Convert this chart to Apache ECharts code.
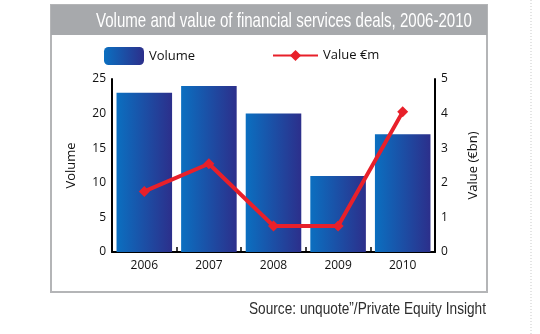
<!DOCTYPE html>
<html>
<head>
<meta charset="utf-8">
<script src="https://cdn.jsdelivr.net/npm/echarts@6/dist/echarts.min.js"></script>
<style>
  html, body { margin: 0; padding: 0; background: #ffffff; }
  #chart { width: 540px; height: 334px; }
</style>
</head>
<body>
<div id="chart"></div>
<script>
// Deal data, 2006-2010
const years = ['2006', '2007', '2008', '2009', '2010'];
const volume = [23, 24, 20, 11, 17];
const valueBn = [1.75, 2.55, 0.75, 0.75, 4.05];
const volumeTicks = [0, 5, 10, 15, 20, 25];
const valueTicks = [0, 1, 2, 3, 4, 5];

const titleText = 'Volume and value of financial services deals, 2006-2010';
const sourceText = 'Source: unquote\u201d/Private Equity Insight';

const condensedBase = '"Liberation Sans", Arial, sans-serif';
const body = '"Open Sans", "Noto Sans", sans-serif';

// Squeeze a regular sans face horizontally to get a condensed look
function textWidth(str, font) {
  const ctx = document.createElement('canvas').getContext('2d');
  ctx.font = font;
  return ctx.measureText(str).width;
}
function condensedText(str, size, left, right, y, color) {
  const font = size + 'px ' + condensedBase;
  const sx = (right - left) / textWidth(str, font);
  return {
    type: 'text', x: left, y: y, scaleX: sx, originX: 0, z: 3,
    style: { text: str, fill: color, font: font, align: 'left', verticalAlign: 'middle' }
  };
}

const barFill = new echarts.graphic.LinearGradient(0, 0, 1, 0, [
  { offset: 0, color: '#0b6fc0' },
  { offset: 1, color: '#2c2f8b' }
]);

const chart = echarts.init(document.getElementById('chart'), null, { renderer: 'canvas' });

chart.setOption({
  backgroundColor: '#ffffff',
  animation: false,
  graphic: [
    // outer frame
    { type: 'rect', shape: { x: 51, y: 5, width: 436, height: 287 },
      style: { fill: 'none', stroke: '#b4b5b7', lineWidth: 2 }, z: 0 },
    // title band
    { type: 'rect', shape: { x: 51, y: 5, width: 436, height: 30 },
      style: { fill: '#a7a9ac' }, z: 1 },
    condensedText(titleText, 21, 96, 472, 21, '#ffffff'),
    condensedText(sourceText, 17, 249, 486, 309, '#2e2e2e'),
    // dotted page edge
    { type: 'line', shape: { x1: 531, y1: 0, x2: 531, y2: 334 },
      style: { stroke: '#c9c9c9', lineWidth: 1, lineDash: [1, 2] } }
  ],
  legend: [
    {
      data: ['Volume'], left: 99, top: 42, itemWidth: 40, itemHeight: 18,
      itemGap: 8, textStyle: { fontFamily: body, fontSize: 13, color: '#111' }
    },
    {
      data: ['Value €m'], left: 267, top: 44, itemWidth: 45, itemHeight: 14,
      itemGap: 8, textStyle: { fontFamily: body, fontSize: 13, color: '#111' }
    }
  ],
  grid: { left: 112, right: 105, top: 79, bottom: 82, containLabel: false },
  xAxis: {
    type: 'category',
    data: years,
    axisLine: { lineStyle: { color: '#000', width: 2 } },
    axisTick: { show: true, inside: true, length: 5, lineStyle: { color: '#000', width: 1.5 } },
    axisLabel: { fontFamily: body, fontSize: 12, color: '#111', margin: 8 }
  },
  yAxis: [
    {
      type: 'value', min: 0, max: 25, interval: 5,
      name: 'Volume', nameLocation: 'middle', nameGap: 34,
      nameTextStyle: { fontFamily: body, fontSize: 13, color: '#111' },
      axisLine: { show: true, lineStyle: { color: '#000', width: 2 } },
      axisTick: { show: false },
      splitLine: { show: false },
      axisLabel: { fontFamily: body, fontSize: 12, color: '#111', margin: 6,
                   formatter: v => volumeTicks.includes(v) ? String(v) : '' }
    },
    {
      type: 'value', min: 0, max: 5, interval: 1, position: 'right',
      name: 'Value (€bn)', nameLocation: 'middle', nameGap: 32, nameRotate: 90,
      nameTextStyle: { fontFamily: body, fontSize: 13, color: '#111' },
      axisLine: { show: true, lineStyle: { color: '#000', width: 2 } },
      axisTick: { show: false },
      splitLine: { show: false },
      axisLabel: { fontFamily: body, fontSize: 12, color: '#111', margin: 6,
                   formatter: v => valueTicks.includes(v) ? String(v) : '' }
    }
  ],
  series: [
    {
      name: 'Volume', type: 'bar', data: volume, yAxisIndex: 0,
      barCategoryGap: '14%',
      itemStyle: { color: barFill }
    },
    {
      name: 'Value €m', type: 'line', data: valueBn, yAxisIndex: 1,
      symbol: 'diamond', symbolSize: 11,
      lineStyle: { color: '#e8202a', width: 4 },
      itemStyle: { color: '#e8202a' },
      z: 5
    }
  ]
});
</script>
</body>
</html>
